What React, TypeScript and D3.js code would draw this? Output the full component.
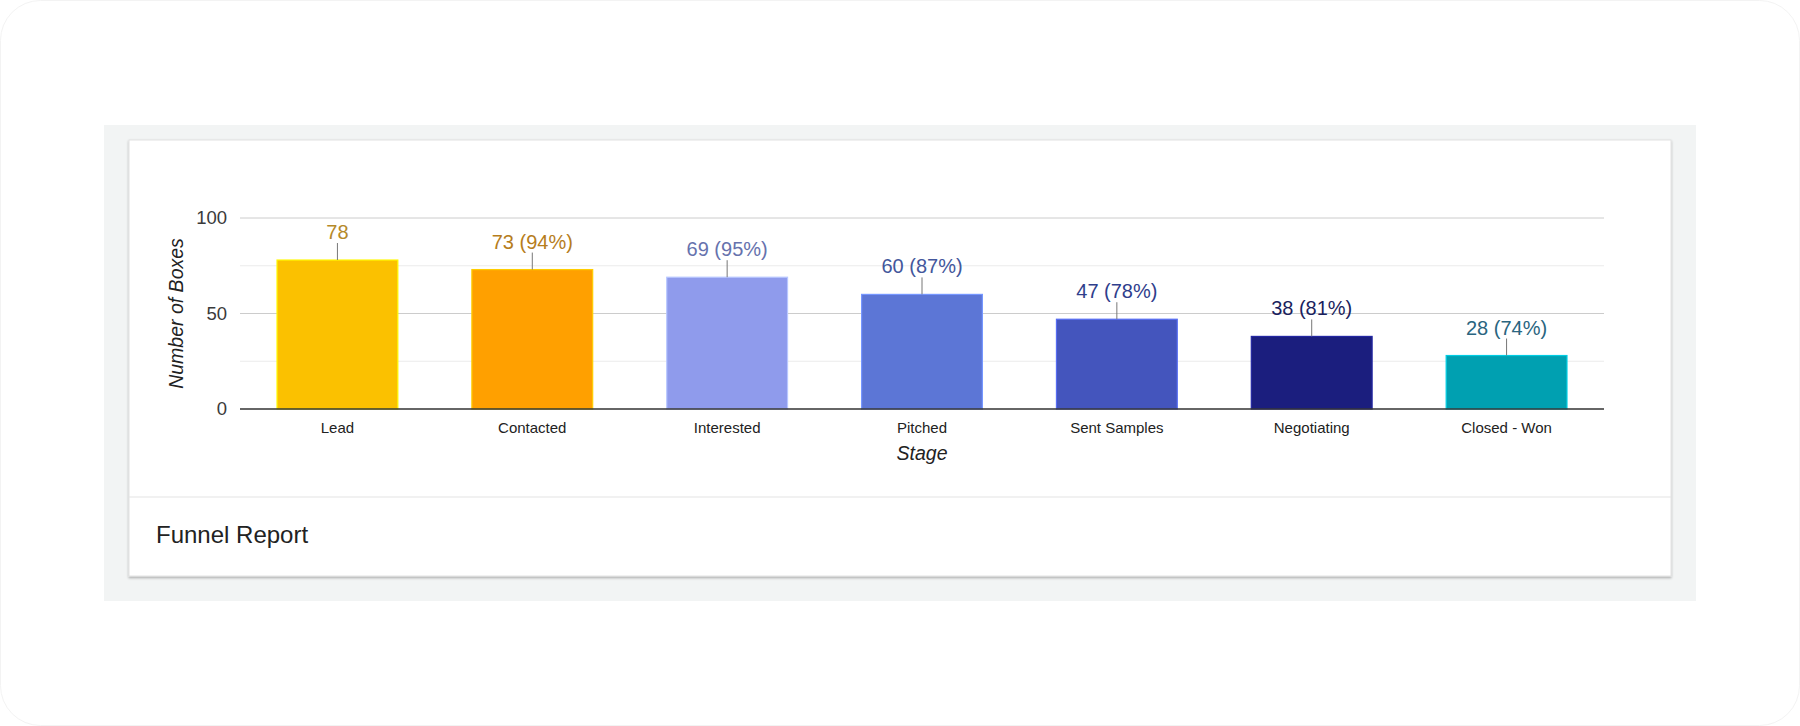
import React from "react";
import * as d3 from "d3";

const stages = ["Lead", "Contacted", "Interested", "Pitched", "Sent Samples", "Negotiating", "Closed - Won"];
const boxes = [78, 73, 69, 60, 47, 38, 28];
const conversion: (number | null)[] = [null, 94, 95, 87, 78, 81, 74];
const barColors = ["#fbc100", "#ffa000", "#8f9bec", "#5c76d6", "#4455bd", "#1b1e7e", "#00a0b1"];
const labelColors = ["#b5892a", "#b67d1c", "#6672ad", "#43579c", "#2f3e8c", "#1b1f5e", "#2a6580"];
const yTicks = [0, 50, 100];
const yMinorTicks = [25, 75];
const chartTitle = "Funnel Report";
const xTitle = "Stage";
const yTitle = "Number of Boxes";

const FONT = "Arial, 'Liberation Sans', sans-serif";

export default function App() {
  const W = 1800;
  const H = 726;
  const plot = { left: 240, right: 1604, top: 218, bottom: 409 };

  const x = d3
    .scaleBand<string>()
    .domain(stages)
    .range([plot.left, plot.right])
    .paddingInner(0.38)
    .paddingOuter(0.19);
  const y = d3.scaleLinear().domain([0, 100]).range([plot.bottom, plot.top]);

  const card = { x: 129, y: 140, w: 1542, h: 436 };

  return (
    <svg
      width={W}
      height={H}
      style={{ position: "absolute", left: 0, top: 0, display: "block" }}
      fontFamily={FONT}
    >
      <defs>
        <filter id="cardShadow" x="-5%" y="-5%" width="110%" height="115%">
          <feDropShadow dx="0" dy="1.5" stdDeviation="1.2" floodColor="#000" floodOpacity="0.3" />
        </filter>
      </defs>
      <rect x={0} y={0} width={W} height={H} fill="#ffffff" />
      <rect x={0.5} y={0.5} width={W - 1} height={H - 1} rx={40} ry={40} fill="none" stroke="#f3f3f3" />
      {/* gray panel */}
      <rect x={104} y={125} width={1592} height={476} fill="#f2f4f4" />
      {/* white card */}
      <rect
        x={card.x}
        y={card.y}
        width={card.w}
        height={card.h}
        fill="#ffffff"
        stroke="#e2e2e2"
        strokeWidth={1}
        filter="url(#cardShadow)"
      />
      <line x1={card.x} x2={card.x + card.w} y1={497} y2={497} stroke="#e3e3e3" strokeWidth={1.2} />
      <text x={156} y={543} fontSize={24} fill="#222">
        {chartTitle}
      </text>

      {/* gridlines */}
      {yMinorTicks.map((t) => (
        <line key={"m" + t} x1={plot.left} x2={plot.right} y1={y(t)} y2={y(t)} stroke="#ebebeb" strokeWidth={1} />
      ))}
      {yTicks
        .filter((t) => t !== 0)
        .map((t) => (
          <line key={"g" + t} x1={plot.left} x2={plot.right} y1={y(t)} y2={y(t)} stroke="#cccccc" strokeWidth={1} />
        ))}
      {yTicks.map((t) => (
        <text key={"t" + t} x={227} y={y(t)} dy="0.35em" textAnchor="end" fontSize={18.5} fill="#3a3a3a">
          {t}
        </text>
      ))}

      {/* bars */}
      {stages.map((s, i) => {
        const c = d3.color(barColors[i])!;
        const stroke = (c as d3.RGBColor).brighter(0.7).formatHex();
        return (
          <rect
            key={s}
            x={x(s)!}
            y={y(boxes[i])}
            width={x.bandwidth()}
            height={y(0) - y(boxes[i])}
            fill={barColors[i]}
            stroke={stroke}
            strokeWidth={1.2}
          />
        );
      })}

      {/* axis line */}
      <line x1={plot.left} x2={plot.right} y1={y(0)} y2={y(0)} stroke="#333" strokeWidth={1.6} />

      {/* data labels with leader lines */}
      {stages.map((s, i) => {
        const cx = x(s)! + x.bandwidth() / 2;
        const top = y(boxes[i]);
        const label = conversion[i] == null ? `${boxes[i]}` : `${boxes[i]} (${conversion[i]}%)`;
        return (
          <g key={"l" + s}>
            <line x1={cx} x2={cx} y1={top} y2={top - 17} stroke="#777" strokeWidth={1} />
            <text x={cx} y={top - 21} textAnchor="middle" fontSize={20} fill={labelColors[i]}>
              {label}
            </text>
          </g>
        );
      })}

      {/* category labels */}
      {stages.map((s) => (
        <text
          key={"c" + s}
          x={x(s)! + x.bandwidth() / 2}
          y={428}
          dy="0.35em"
          textAnchor="middle"
          fontSize={15}
          fill="#222"
        >
          {s}
        </text>
      ))}

      {/* axis titles */}
      <text x={(plot.left + plot.right) / 2} y={453} dy="0.35em" textAnchor="middle" fontSize={19.5} fontStyle="italic" fill="#222">
        {xTitle}
      </text>
      <text
        transform={`translate(176, ${(plot.top + plot.bottom) / 2}) rotate(-90)`}
        dy="0.35em"
        textAnchor="middle"
        fontSize={19.5}
        fontStyle="italic"
        fill="#222"
      >
        {yTitle}
      </text>
    </svg>
  );
}
